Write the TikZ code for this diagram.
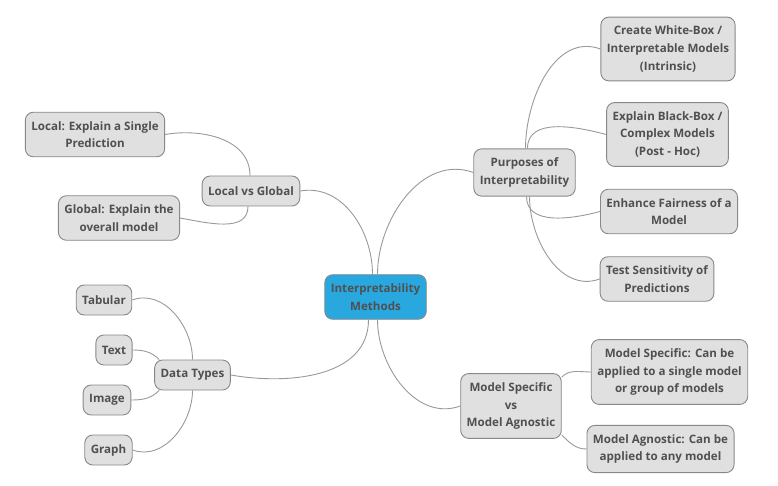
\documentclass[tikz,border=0pt]{standalone}
\usepackage{fontspec}
\setmainfont{Open Sans}[BoldFont={Open Sans Bold}]
\definecolor{boxfill}{HTML}{E0E0E0}
\definecolor{boxline}{HTML}{888888}
\definecolor{txt}{HTML}{505050}
\definecolor{rootfill}{HTML}{29A8E0}
\definecolor{edge}{HTML}{999999}
\tikzset{
    RB1/.style ={rectangle,rounded corners=8pt,draw=boxline,fill=boxfill,line width=0.9pt,
        text=txt,font=\bfseries\fontsize{11.6}{17.6}\selectfont,align=center,
        inner xsep=6pt,inner ysep=9pt,minimum height=30pt},
    RB2/.style ={RB1,fill=rootfill},
    ED/.style ={draw=edge,line width=0.9pt}}

\begin{document}
\begin{tikzpicture}[x=1pt,y=1pt]
        \useasboundingbox (0,0) rectangle (778,-486);
        \node[RB2] (1) at(375.5,-297){Interpretability\\Methods};
        \node[RB1] (2) at(524.5,-172.5){Purposes of\\Interpretability};
        \node[RB1] (3) at(668,-49){Create White-Box /\\Interpretable Models\\(Intrinsic)};
        \node[RB1] (4) at(667.5,-134.5){Explain Black-Box /\\Complex Models\\(Post - Hoc)};
        \node[RB1] (5) at(669,-211.5){Enhance Fairness of a\\Model};
        \node[RB1] (6) at(657,-279){Test Sensitivity of\\Predictions};
        \node[RB1] (7) at(511,-406){Model Specific\\vs\\Model Agnostic};
        \node[RB1] (8) at(669.5,-372){Model Specific: Can be\\applied to a single model\\or group of models};
        \node[RB1] (9) at(660.5,-449){Model Agnostic: Can be\\applied to any model};
        \node[RB1] (10) at(251,-191){Local vs Global};
        \node[RB1] (11) at(95,-134.5){Local: Explain a Single\\Prediction};
        \node[RB1] (12) at(119,-218){Global: Explain the\\overall model};
        \node[RB1] (13) at(192.5,-375){Data Types};
        \node[RB1] (14) at(104,-300){Tabular};
        \node[RB1] (15) at(114,-350){Text};
        \node[RB1] (16) at(107,-400){Image};
        \node[RB1] (17) at(108.5,-450){Graph};
        \draw[ED] ([xshift=-3pt]1.north) to[out=90,in=10] (10.east);
        \draw[ED] ([xshift=2pt]1.north) to[out=90,in=160] (2.west);
        \draw[ED] ([xshift=-7pt]1.south) to[out=-90,in=-10] (13.east);
        \draw[ED] ([xshift=2pt]1.south) to[out=-90,in=200] (7.west);
        \draw[ED] ([xshift=-1pt]10.north) to[out=90,in=10] (11.east);
        \draw[ED] ([xshift=-3pt]10.south) to[out=-90,in=-10] (12.east);
        \draw[ED] (13.north) to[out=90,in=20] (14.east);
        \draw[ED] ([xshift=5pt]13.north west) to[out=135,in=0] (15.east);
        \draw[ED] ([xshift=5pt]13.south west) to[out=-135,in=0] (16.east);
        \draw[ED] (13.south) to[out=-90,in=-20] (17.east);
        \draw[ED] ([xshift=1pt]2.north) to[out=90,in=160] (3.west);
        \draw[ED] ([xshift=3pt]2.north) to[out=90,in=165] (4.west);
        \draw[ED] ([xshift=2pt]2.south) to[out=-90,in=195] (5.west);
        \draw[ED] ([xshift=5pt]2.south) to[out=-90,in=200] (6.west);
        \draw[ED] ([yshift=-4pt]7.north east) to[out=45,in=180] (8.west);
        \draw[ED] ([yshift=4pt]7.south east) to[out=-45,in=180] (9.west);
    \end{tikzpicture}
\end{document}
